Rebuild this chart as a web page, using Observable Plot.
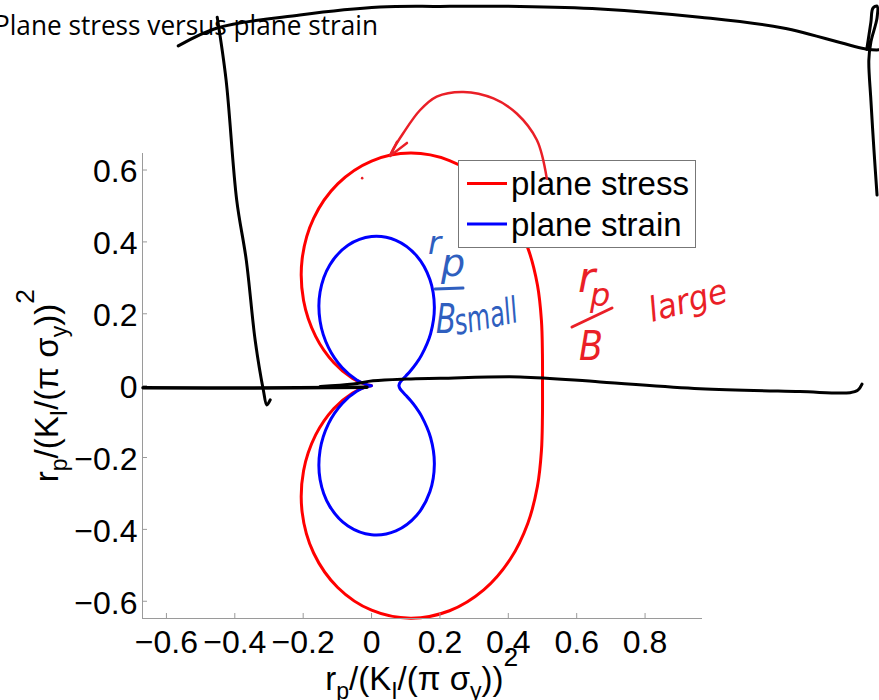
<!DOCTYPE html>
<html><head><meta charset="utf-8">
<script src="https://cdn.jsdelivr.net/npm/d3@7"></script>
<script src="https://cdn.jsdelivr.net/npm/@observablehq/plot@0.6"></script>
<style>html,body{margin:0;padding:0;background:#fff;} svg{display:block}</style>
</head><body><div id="chart"></div>
<script>
// ---- data ----
const titleText = "Plane stress versus plane strain";
const seriesNames = ["plane stress", "plane strain"];
const xTicks = [-0.6, -0.4, -0.2, 0, 0.2, 0.4, 0.6, 0.8];
const yTicks = [-0.6, -0.4, -0.2, 0, 0.2, 0.4, 0.6];
const xDomain = [-0.67, 0.968];
const yDomain = [-0.648, 0.646];

// plane stress boundary (red)
const stressX = [0.5, 0.4998, 0.4969, 0.4852, 0.4569, 0.4055, 0.3281, 0.228, 0.1141, 0, -0.099, -0.1695, -0.2031, -0.1989, -0.1635, -0.1102, -0.0554, -0.0149, 0, -0.0149, -0.0554, -0.1102, -0.1635, -0.1989, -0.2031, -0.1695, -0.099, 0, 0.1141, 0.228, 0.3281, 0.4055, 0.4569, 0.4852, 0.4969, 0.4998, 0.5];
const stressY = [0, 0.0881, 0.1809, 0.2801, 0.3834, 0.4832, 0.5683, 0.6264, 0.6471, 0.625, 0.5616, 0.4657, 0.3518, 0.237, 0.1372, 0.0636, 0.0202, 0.0026, 0, -0.0026, -0.0202, -0.0636, -0.1372, -0.237, -0.3518, -0.4657, -0.5616, -0.625, -0.6471, -0.6264, -0.5683, -0.4832, -0.3834, -0.2801, -0.1809, -0.0881, 0];

// plane strain boundary (blue)
const strainX = [0.08, 0.0824, 0.0893, 0.1002, 0.1141, 0.1298, 0.1458, 0.1728, 0.1837, 0.1706, 0.1316, 0.0713, 0, -0.0689, -0.1222, -0.1506, -0.1506, -0.1259, -0.0858, -0.0435, -0.0118, 0, -0.0118, -0.0435, -0.0858, -0.1259, -0.1506, -0.1506, -0.1222, -0.0689, 0, 0.0713, 0.1316, 0.1706, 0.1837, 0.1728, 0.1458, 0.1298, 0.1141, 0.1002, 0.0893, 0.0824, 0.08];
const strainY = [0, 0.0072, 0.0157, 0.0269, 0.0415, 0.0605, 0.0842, 0.145, 0.2189, 0.2955, 0.3616, 0.4044, 0.415, 0.3907, 0.3359, 0.2609, 0.1795, 0.1056, 0.0496, 0.0158, 0.0021, 0, -0.0021, -0.0158, -0.0496, -0.1056, -0.1795, -0.2609, -0.3359, -0.3907, -0.415, -0.4044, -0.3616, -0.2955, -0.2189, -0.145, -0.0842, -0.0605, -0.0415, -0.0269, -0.0157, -0.0072, 0];

// hand-drawn ink strokes (data units)
const inkTopX = [-0.564, -0.450, -0.208, 0.026, 0.202, 0.436, 0.670, 0.962, 1.205, 1.450, 1.485];
const inkTopY = [0.944, 0.994, 1.030, 1.052, 1.054, 1.054, 1.047, 1.024, 0.994, 0.935, 0.933];
const inkRightX = [1.450, 1.462, 1.468, 1.480, 1.480, 1.462, 1.456, 1.462, 1.471, 1.480];
const inkRightY = [0.935, 1.010, 1.049, 1.055, 1.022, 0.955, 0.905, 0.793, 0.654, 0.529];
const inkLeftX = [-0.450, -0.424, -0.393, -0.365, -0.339, -0.315, -0.305, -0.295];
const inkLeftY = [1.024, 0.849, 0.515, 0.348, 0.125, -0.014, -0.055, -0.041];
const inkBase1X = [-0.667, -0.354, -0.012];
const inkBase1Y = [-0.007, -0.008, -0.006];
const inkBase2X = [-0.149, -0.053, 0.006, 0.104, 0.202, 0.436, 0.670, 0.962, 1.254, 1.401, 1.424, 1.436];
const inkBase2Y = [-0.004, 0.003, 0.012, 0.017, 0.019, 0.023, 0.009, -0.010, -0.018, -0.021, -0.014, 0.003];
const arrowX = [0.514, 0.485, 0.426, 0.358, 0.270, 0.192, 0.143, 0.094, 0.061, 0.056];
const arrowY = [0.575, 0.682, 0.756, 0.798, 0.816, 0.803, 0.765, 0.701, 0.650, 0.638];
const barbX = [0.105, 0.056, 0.076];
const barbY = [0.674, 0.638, 0.677];
const dotX = [-0.026];
const dotY = [0.576];

// ---- layout & style ----
const W = 879, H = 700, mL = 142, mR = 177, mT = 153, mB = 82;
const RED = "#ff0000", BLUE = "#0000ff", AXIS = "#9a9a9a";
const INK_RED = "#ea1f27", INK_BLUE = "#2f5fbf";
const FONT = "'Liberation Sans', Arial, Helvetica, sans-serif";
const pxPerY = (H - mT - mB) / (yDomain[1] - yDomain[0]);
const pxPerX = (W - mL - mR) / (xDomain[1] - xDomain[0]);
const tickLen = 5;
const fmt = d => d === 0 ? "0" : (d < 0 ? "\u2212" : "") + Math.abs(d).toFixed(1);
const pts = (xs, ys) => xs.map((x, i) => ({x, y: ys[i]}));

const chart = Plot.plot({
  width: W, height: H,
  marginLeft: mL, marginRight: mR, marginTop: mT, marginBottom: mB,
  x: {domain: xDomain},
  y: {domain: yDomain},
  style: {fontFamily: FONT, background: "white", color: "black"},
  marks: [
    Plot.line(pts(stressX, stressY), {x: "x", y: "y", stroke: RED, strokeWidth: 3, curve: "catmull-rom"}),
    Plot.line(pts(strainX, strainY), {x: "x", y: "y", stroke: BLUE, strokeWidth: 3, curve: "catmull-rom"}),
    Plot.ruleX([xDomain[0]], {y1: yDomain[0], y2: yDomain[1], stroke: AXIS}),
    Plot.ruleY([yDomain[0]], {x1: xDomain[0], x2: xDomain[1], stroke: AXIS}),
    Plot.ruleX(xTicks, {x: d => d, y1: yDomain[0], y2: yDomain[0] + tickLen / pxPerY, stroke: AXIS}),
    Plot.ruleY(yTicks, {y: d => d, x1: xDomain[0], x2: xDomain[0] + tickLen / pxPerX, stroke: AXIS}),
    Plot.axisX(xTicks, {anchor: "bottom", tickSize: 0, tickPadding: 12, fontSize: 32, tickFormat: fmt, label: null}),
    Plot.axisY(yTicks, {anchor: "left", tickSize: 0, tickPadding: 5, fontSize: 32, tickFormat: fmt, label: null, dy: 2})
  ]
});
document.getElementById("chart").appendChild(chart);

const svg = d3.select(chart);
const sx = chart.scale("x"), sy = chart.scale("y");

// title
svg.append("text")
  .attr("x", -6).attr("y", 35).attr("text-anchor", "start")
  .attr("font-family", "'Open Sans', sans-serif").attr("font-size", 27)
  .attr("textLength", 384).attr("lengthAdjust", "spacingAndGlyphs")
  .attr("fill", "black")
  .text(titleText);

// legend (above curves)
const lg = svg.append("g").attr("font-family", FONT).attr("text-anchor", "start");
lg.append("rect").attr("x", 458.5).attr("y", 160.5).attr("width", 237).attr("height", 87)
  .attr("fill", "white").attr("stroke", "#777").attr("stroke-width", 1);
[[RED, 183.5, 195], [BLUE, 224, 235.5]].forEach(([c, ly, ty], i) => {
  lg.append("line").attr("x1", 467).attr("x2", 507).attr("y1", ly).attr("y2", ly)
    .attr("stroke", c).attr("stroke-width", 3);
  lg.append("text").attr("x", 511).attr("y", ty).attr("font-size", 33).attr("fill", "black")
    .text(seriesNames[i]);
});

// axis labels with sub/superscripts
const labelParts = [["r"], ["p", "sub"], ["/(K"], ["I", "sub"], ["/(\u03C0 \u03C3"], ["y", "sub"], ["))"], ["2", "sup"]];
function mathLabel(g, size) {
  const t = g.append("text").attr("font-size", size).attr("text-anchor", "middle").attr("fill", "black");
  let shift = 0;
  for (const [s, kind] of labelParts) {
    const target = kind === "sub" ? size * 0.27 : kind === "sup" ? -size * 0.72 : 0;
    const ts = t.append("tspan").attr("dy", target - shift).text(s);
    ts.attr("font-size", kind === "sub" ? size * 0.7 : kind === "sup" ? size * 0.8 : size);
    shift = target;
  }
}
const labs = svg.append("g").attr("font-family", FONT);
mathLabel(labs.append("g").attr("transform", "translate(421.7,690)"), 33);
mathLabel(labs.append("g").attr("transform", "translate(58,385.7) rotate(-90)"), 33);

// hand-drawn ink, drawn through the chart's scales
const inkG = svg.append("g").attr("fill", "none").attr("stroke-linecap", "round").attr("stroke-linejoin", "round");
const inkPath = (xs, ys, color, w, curve = d3.curveCatmullRom) => {
  const line = d3.line().x(d => sx.apply(d.x)).y(d => sy.apply(d.y)).curve(curve);
  inkG.append("path").attr("d", line(pts(xs, ys))).attr("stroke", color).attr("stroke-width", w);
};
inkPath(inkTopX, inkTopY, "black", 3);
inkPath(inkRightX, inkRightY, "black", 3);
inkPath(inkLeftX, inkLeftY, "black", 3);
inkPath(inkBase1X, inkBase1Y, "black", 3.5);
inkPath(inkBase2X, inkBase2Y, "black", 3);
inkPath(arrowX, arrowY, INK_RED, 2.5);
inkPath(barbX, barbY, INK_RED, 2.5, d3.curveLinear);
pts(dotX, dotY).forEach(d => svg.append("circle").attr("cx", sx.apply(d.x)).attr("cy", sy.apply(d.y)).attr("r", 1.3).attr("fill", INK_RED));

// handwritten notes
const hw = svg.append("g").attr("font-family", "'DejaVu Sans', sans-serif").attr("font-style", "italic").attr("text-anchor", "start");
const note = (txt, x, y, size, color, rot = 0, len = null) => {
  const t = hw.append("text").attr("x", x).attr("y", y).attr("font-size", size).attr("fill", color)
    .attr("transform", `rotate(${rot},${x},${y})`).text(txt);
  if (len) t.attr("textLength", len).attr("lengthAdjust", "spacingAndGlyphs");
};
note("r", 428, 254, 32, INK_BLUE);
note("p", 441, 276, 38, INK_BLUE);
hw.append("line").attr("x1", 435).attr("y1", 289).attr("x2", 463).attr("y2", 288)
  .attr("stroke", INK_BLUE).attr("stroke-width", 3).attr("stroke-linecap", "round");
note("B", 436, 333, 40, INK_BLUE, 0, 20);
note("small", 457, 335, 36, INK_BLUE, -12, 64);
note("r", 578, 292, 42, INK_RED);
note("p", 590, 306, 32, INK_RED);
hw.append("line").attr("x1", 572).attr("y1", 327).attr("x2", 612).attr("y2", 308)
  .attr("stroke", INK_RED).attr("stroke-width", 3).attr("stroke-linecap", "round");
note("B", 579, 360, 40, INK_RED, 0, 24);
note("large", 652, 322, 34, INK_RED, -15, 80);
</script>
</body></html>
